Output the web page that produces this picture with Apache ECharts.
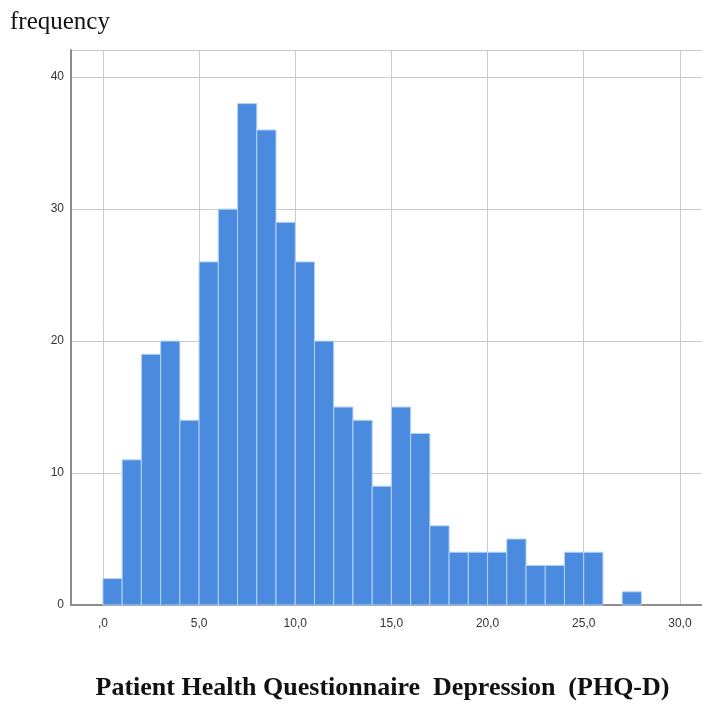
<!DOCTYPE html>
<html>
<head>
<meta charset="utf-8">
<script src="https://cdn.jsdelivr.net/npm/echarts@6/dist/echarts.min.js"></script>
<style>
  html, body { margin: 0; padding: 0; background: #fff; }
  #chart { width: 702px; height: 706px; }
</style>
</head>
<body>
<div id="chart"></div>
<script>
// Histogram of PHQ-D sum scores, bins of width 1
const binStarts = [0, 1, 2, 3, 4, 5, 6, 7, 8, 9, 10, 11, 12, 13, 14, 15, 16, 17, 18, 19, 20, 21, 22, 23, 24, 25, 26, 27];
const frequencies = [2, 11, 19, 20, 14, 26, 30, 38, 36, 29, 26, 20, 15, 14, 9, 15, 13, 6, 4, 4, 4, 5, 3, 3, 4, 4, 0, 1];
const binWidth = 1;

const xTickValues = [0, 5, 10, 15, 20, 25, 30];
const xTickLabels = [',0', '5,0', '10,0', '15,0', '20,0', '25,0', '30,0'];

const yAxisTitle = 'frequency';
const xAxisTitle = 'Patient Health Questionnaire  Depression  (PHQ-D)';

const histData = binStarts.map((s, i) => [s, s + binWidth, frequencies[i]]);

const chart = echarts.init(document.getElementById('chart'), null, { renderer: 'canvas' });

chart.setOption({
  animation: false,
  backgroundColor: '#ffffff',
  title: {
    text: yAxisTitle,
    left: 10,
    top: 10,
    padding: 0,
    textStyle: {
      fontFamily: 'Liberation Serif',
      fontWeight: 'normal',
      fontSize: 25,
      color: '#111'
    }
  },
  grid: { left: 71, right: 0, top: 50, bottom: 82.7, containLabel: false },
  xAxis: {
    type: 'value',
    min: -1.66,
    max: 31.15,
    name: xAxisTitle,
    nameLocation: 'middle',
    nameGap: 70,
    nameTextStyle: {
      fontFamily: 'Liberation Serif',
      fontWeight: 'bold',
      fontSize: 26,
      color: '#111',
      padding: [0, 8, 0, 0]
    },
    axisLine: { show: true, onZero: false, lineStyle: { color: '#8c8c8c', width: 2 } },
    axisTick: { show: false, customValues: xTickValues },
    axisLabel: {
      customValues: xTickValues,
      margin: 13,
      fontFamily: 'Liberation Sans',
      fontSize: 12,
      color: '#333',
      formatter: v => {
        const i = xTickValues.indexOf(Math.round(v));
        return i >= 0 ? xTickLabels[i] : '';
      }
    },
    splitLine: { show: true, lineStyle: { color: '#cbcbcb', width: 1 } }
  },
  yAxis: {
    type: 'value',
    min: 0,
    max: 42.06,
    interval: 10,
    axisLine: { show: true, onZero: false, lineStyle: { color: '#8c8c8c', width: 2 } },
    axisTick: { show: false },
    axisLabel: {
      margin: 7,
      fontFamily: 'Liberation Sans',
      fontSize: 12,
      color: '#333',
      formatter: v => (v <= 40 ? String(v) : '')
    },
    splitLine: { show: true, lineStyle: { color: '#cbcbcb', width: 1 } }
  },
  series: [{
    type: 'custom',
    data: histData,
    encode: { x: [0, 1], y: 2 },
    renderItem: (params, api) => {
      const count = api.value(2);
      if (!count) return null;
      const topLeft = api.coord([api.value(0), count]);
      const bottomRight = api.coord([api.value(1), 0]);
      return {
        type: 'rect',
        shape: {
          x: topLeft[0],
          y: topLeft[1],
          width: bottomRight[0] - topLeft[0],
          height: bottomRight[1] - topLeft[1]
        },
        style: { fill: '#4a8be0', stroke: '#b3d2f6', lineWidth: 1 }
      };
    },
    z: 3
  }]
});
</script>
</body>
</html>
